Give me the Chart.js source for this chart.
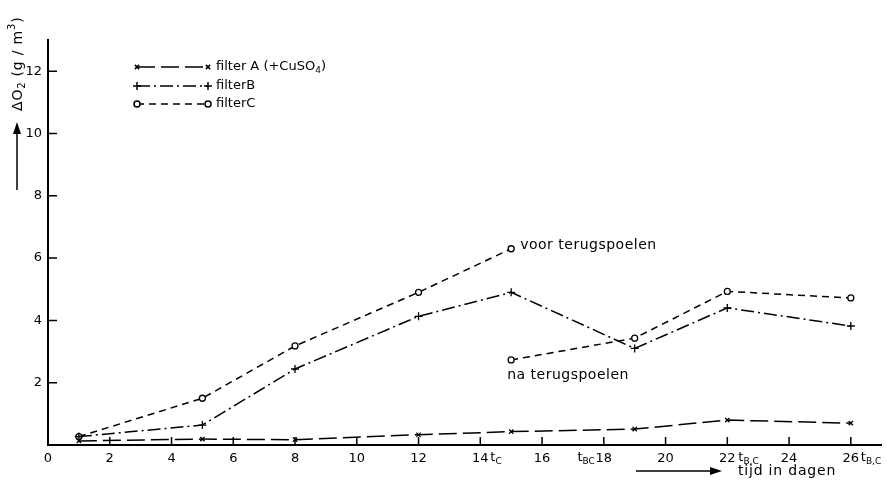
<!DOCTYPE html>
<html>
<head>
<meta charset="utf-8">
<script src="https://cdn.jsdelivr.net/npm/chart.js@4"></script>
<style>
  html, body { margin: 0; padding: 0; background: #fff; }
  #wrap { width: 887px; height: 490px; }
</style>
</head>
<body>
<div id="wrap"><canvas id="zuurstofChart" width="887" height="490"></canvas></div>
<script>
// meetdagen
const dagen = [1, 5, 8, 12, 15, 19, 22, 26];

// zuurstofverbruik filter A en B (g/m3)
const filterA = [0.13, 0.19, 0.17, 0.33, 0.43, 0.51, 0.8, 0.7];
const filterB = [0.27, 0.64, 2.44, 4.13, 4.9, 3.1, 4.4, 3.82];

// filter C: voor en na terugspoelen op dag 15
const dagenCVoor = [1, 5, 8, 12, 15];
const filterCVoor = [0.27, 1.5, 3.18, 4.9, 6.3];
const dagenCNa = [15, 19, 22, 26];
const filterCNa = [2.73, 3.43, 4.93, 4.72];

// assen
const xTicks = [0, 2, 4, 6, 8, 10, 12, 14, 16, 18, 20, 22, 24, 26];
const yTicks = [2, 4, 6, 8, 10, 12];

const FONT = "DejaVu Sans";

function punten(xs, ys) {
  return xs.map((x, i) => ({ x: x, y: ys[i] }));
}

// C als een lijn met een onderbreking bij het terugspoelen
const filterC = punten(dagenCVoor, filterCVoor)
  .concat([{ x: 15, y: null }])
  .concat(punten(dagenCNa, filterCNa));

// tekst met sub- of superscript delen: [tekst, "sub" | "sup" | ""]
function tekenDelen(ctx, delen, x, y, size) {
  let cx = x;
  for (const [t, soort] of delen) {
    if (soort === "sub") {
      ctx.font = Math.round(size * 0.72) + "px " + FONT;
      ctx.fillText(t, cx, y + size * 0.3);
    } else if (soort === "sup") {
      ctx.font = Math.round(size * 0.72) + "px " + FONT;
      ctx.fillText(t, cx, y - size * 0.4);
    } else {
      ctx.font = size + "px " + FONT;
      ctx.fillText(t, cx, y);
    }
    cx += ctx.measureText(t).width;
  }
  return cx - x;
}

function breedte(ctx, delen, size) {
  let w = 0;
  for (const [t, soort] of delen) {
    ctx.font = (soort ? Math.round(size * 0.72) : size) + "px " + FONT;
    w += ctx.measureText(t).width;
  }
  return w;
}

function pijl(ctx, x1, y1, x2, y2) {
  const hoek = Math.atan2(y2 - y1, x2 - x1);
  ctx.beginPath();
  ctx.moveTo(x1, y1);
  ctx.lineTo(x2, y2);
  ctx.lineWidth = 1.5;
  ctx.stroke();
  ctx.beginPath();
  ctx.moveTo(x2 + Math.cos(hoek) * 4, y2 + Math.sin(hoek) * 4);
  ctx.lineTo(x2 - Math.cos(hoek) * 8 - Math.sin(hoek) * 4, y2 - Math.sin(hoek) * 8 + Math.cos(hoek) * 4);
  ctx.lineTo(x2 - Math.cos(hoek) * 8 + Math.sin(hoek) * 4, y2 - Math.sin(hoek) * 8 - Math.cos(hoek) * 4);
  ctx.closePath();
  ctx.fill();
}

const extraTekst = {
  id: "extraTekst",
  afterDraw(chart) {
    const ctx = chart.ctx;
    const xs = chart.scales.x;
    const ys = chart.scales.y;
    const ca = chart.chartArea;
    ctx.save();
    ctx.fillStyle = "#000";
    ctx.strokeStyle = "#000";

    // streepjes naar binnen
    ctx.lineWidth = 1.5;
    ctx.beginPath();
    xTicks.forEach((v) => {
      if (v === 0) return;
      const px = xs.getPixelForValue(v);
      ctx.moveTo(px, ca.bottom);
      ctx.lineTo(px, ca.bottom - 8);
    });
    yTicks.forEach((v) => {
      const py = ys.getPixelForValue(v);
      ctx.moveTo(ca.left, py);
      ctx.lineTo(ca.left + 9, py);
    });
    ctx.stroke();

    // t-markeringen bij de x-as
    ctx.textBaseline = "middle";
    ctx.textAlign = "left";
    const ty = ca.bottom + 13;
    tekenDelen(ctx, [["t", ""], ["C", "sub"]], xs.getPixelForValue(14) + 10, ty, 13);
    const tbc = [["t", ""], ["BC", "sub"]];
    tekenDelen(ctx, tbc, xs.getPixelForValue(18) - 9 - breedte(ctx, tbc, 13), ty, 13);
    tekenDelen(ctx, [["t", ""], ["B,C", "sub"]], xs.getPixelForValue(22) + 11, ty, 13);
    tekenDelen(ctx, [["t", ""], ["B,C", "sub"]], xs.getPixelForValue(26) + 10, ty, 13);

    // x-as titel met pijl
    pijl(ctx, 636, 471, 718, 471);
    ctx.letterSpacing = "0.8px";
    ctx.font = "14px " + FONT;
    ctx.fillText("tijd in dagen", 738, 471);

    // y-as titel met pijl
    ctx.save();
    ctx.letterSpacing = "0.8px";
    ctx.translate(18, 111);
    ctx.rotate(-Math.PI / 2);
    tekenDelen(ctx, [["ΔO", ""], ["2", "sub"], [" (g / m", ""], ["3", "sup"], [")", ""]], 0, 0, 14);
    ctx.restore();
    ctx.letterSpacing = "0px";
    pijl(ctx, 17, 190, 17, 126);

    // opmerkingen bij filter C
    ctx.letterSpacing = "0.5px";
    ctx.font = "14px " + FONT;
    ctx.fillText("voor terugspoelen", xs.getPixelForValue(15) + 9, ys.getPixelForValue(6.3) - 3);
    ctx.fillText("na terugspoelen", xs.getPixelForValue(15) - 4, ys.getPixelForValue(2.73) + 15);
    ctx.letterSpacing = "0px";

    // legenda
    const rijen = [
      { ds: 0, y: 67, tekst: [["filter A (+CuSO", ""], ["4", "sub"], [")", ""]] },
      { ds: 1, y: 86, tekst: [["filterB", ""]] },
      { ds: 2, y: 104, tekst: [["filterC", ""]] },
    ];
    rijen.forEach((r) => {
      const ds = chart.data.datasets[r.ds];
      ctx.setLineDash(ds.borderDash);
      ctx.lineWidth = ds.borderWidth;
      ctx.beginPath();
      ctx.moveTo(137, r.y);
      ctx.lineTo(208, r.y);
      ctx.stroke();
      ctx.setLineDash([]);
      [137, 208].forEach((px) => {
        ctx.fillStyle = "#fff";
        Chart.helpers.drawPoint(ctx, {
          pointStyle: ds.pointStyle,
          radius: ds.pointRadius,
          borderWidth: 1.3,
          rotation: 0,
        }, px, r.y);
      });
      ctx.fillStyle = "#000";
      tekenDelen(ctx, r.tekst, 216, r.y, 13);
    });

    ctx.restore();
  },
};

const lijn = {
  borderColor: "#000",
  borderWidth: 1.5,
  pointBorderColor: "#000",
  pointBackgroundColor: "#fff",
  pointBorderWidth: 1.3,
  tension: 0,
  fill: false,
  spanGaps: false,
};

new Chart(document.getElementById("zuurstofChart"), {
  type: "line",
  data: {
    datasets: [
      {
        ...lijn,
        label: "filter A (+CuSO4)",
        data: punten(dagen, filterA),
        borderDash: [18, 6],
        pointStyle: "crossRot",
        pointRadius: 3,
      },
      {
        ...lijn,
        label: "filterB",
        data: punten(dagen, filterB),
        borderDash: [13, 4, 2, 4],
        pointStyle: "cross",
        pointRadius: 4,
      },
      {
        ...lijn,
        label: "filterC",
        data: filterC,
        borderDash: [7, 5],
        pointStyle: "circle",
        pointRadius: 3,
      },
    ],
  },
  options: {
    responsive: false,
    animation: false,
    layout: { padding: { top: 40, right: 4, left: 0, bottom: 0 } },
    plugins: {
      legend: { display: false },
      tooltip: { enabled: false },
    },
    scales: {
      x: {
        type: "linear",
        min: 0,
        max: 27,
        afterFit: (s) => { s.height = 45; },
        afterBuildTicks: (s) => { s.ticks = xTicks.map((v) => ({ value: v })); },
        grid: { display: false, drawTicks: false },
        border: { display: true, color: "#000", width: 2 },
        ticks: {
          padding: 6,
          color: "#000",
          font: { family: FONT, size: 13 },
          maxRotation: 0,
          autoSkip: false,
        },
      },
      y: {
        min: 0,
        max: 13,
        afterFit: (s) => { s.width = 48; },
        afterBuildTicks: (s) => { s.ticks = yTicks.map((v) => ({ value: v })); },
        grid: { display: false, drawTicks: false },
        border: { display: true, color: "#000", width: 2 },
        ticks: {
          padding: 6,
          color: "#000",
          font: { family: FONT, size: 13 },
        },
      },
    },
  },
  plugins: [extraTekst],
});
</script>
</body>
</html>
